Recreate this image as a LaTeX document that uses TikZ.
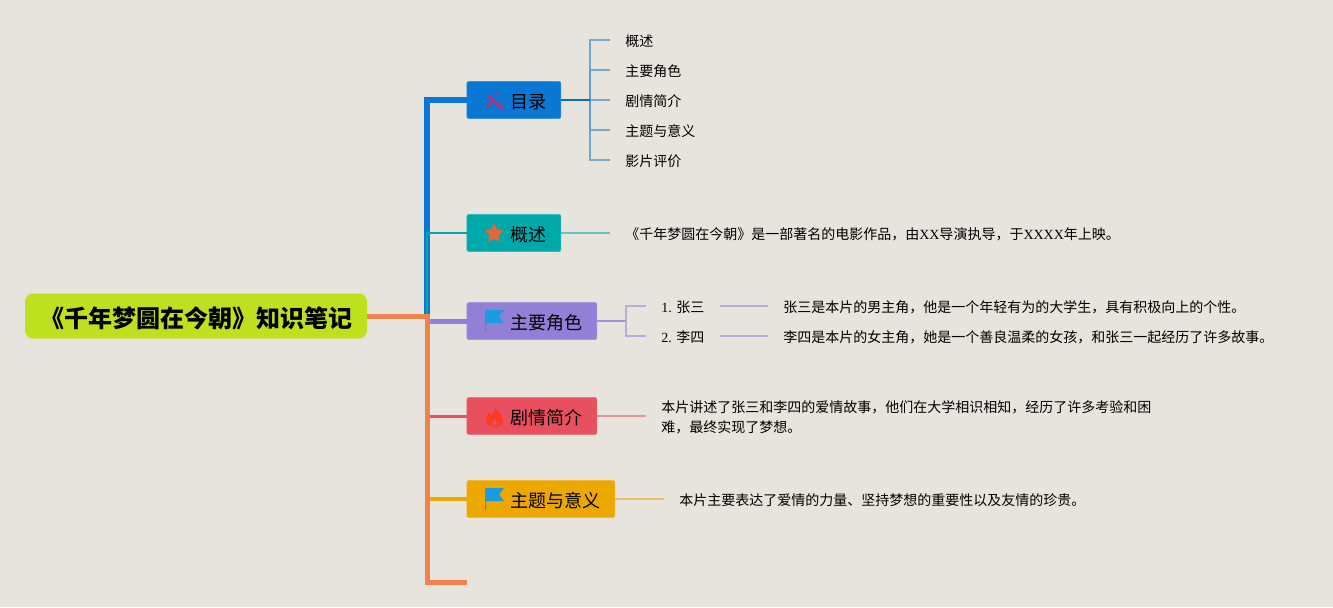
\documentclass[tikz,border=0pt]{standalone}
\usepackage{fontspec}
\setmainfont{Noto Sans CJK SC}
\newfontfamily\lat{Liberation Serif}
\newcommand\pxx[1]{#1*0.75pt}
\definecolor{bgc}{HTML}{E6E4DC}
\definecolor{rootc}{HTML}{BFE01E}
\definecolor{orangec}{HTML}{EF844A}
\definecolor{bluec}{HTML}{0A78D2}
\definecolor{subbluec}{HTML}{5B9AC8}
\definecolor{tealc}{HTML}{00A9A9}
\definecolor{purplec}{HTML}{9180D6}
\definecolor{redc}{HTML}{E8505F}
\definecolor{yellowc}{HTML}{EDA800}
\definecolor{flagc}{HTML}{1A9CE0}
\definecolor{wandc}{HTML}{B0307A}
\definecolor{starc}{HTML}{E0683A}
\definecolor{flamec}{HTML}{FF3A22}
\newcommand\ttl[1]{\hspace*{32.4pt}#1\hspace*{11.1pt}}
\tikzset{
  x=0.75pt,y=-0.75pt,
  rootbox/.style={fill=rootc,rounded corners=6pt,inner sep=0pt,minimum width=\pxx{342},minimum height=\pxx{45},
    font=\fontsize{18}{22}\selectfont\bfseries,text height=17.5pt,text depth=0pt},
  topic/.style={rounded corners=1.5pt,inner sep=0pt,minimum height=\pxx{37},line width=0.5pt,
    font=\fontsize{13.5}{16}\selectfont,text height=12pt,text depth=0pt,anchor=west},
  leaf/.style={inner ysep=0pt,inner xsep=\pxx{15},anchor=west,font=\fontsize{10.5}{15}\selectfont,text height=9.3pt,text depth=0pt},
  para/.style={inner ysep=0pt,inner xsep=\pxx{15},anchor=west,align=left,font=\fontsize{10.5}{15}\selectfont},
  trunkline/.style={line width=\pxx{#1},line cap=butt,line join=miter},
  subline/.style={line width=\pxx{2},line cap=butt,line join=miter,draw opacity=0.55},
}
\begin{document}
\begin{tikzpicture}
\useasboundingbox (0,0) rectangle (1333,607);
\fill[bgc] (0,0) rectangle (1333,607);
\coordinate (j) at (427,316);
\coordinate (tail) at (467,582);
\coordinate (ab) at (590,100);
\coordinate (cj) at (626,321);

\node[rootbox] (root) at (196,316) {《千年梦圆在今朝》知识笔记};
\node[topic,fill=bluec,draw=bluec!80!white] (a) at (466.5,100) {\ttl{目录}};
\node[topic,fill=tealc,draw=tealc!80!white] (b) at (466.5,233) {\ttl{概述}};
\node[topic,fill=purplec,draw=purplec!80!white] (c) at (466.5,321) {\ttl{主要角色}};
\node[topic,fill=redc,draw=redc!80!white] (d) at (466.5,416) {\ttl{剧情简介}};
\node[topic,fill=yellowc,draw=yellowc!80!white] (e) at (466.5,499) {\ttl{主题与意义}};

\node[leaf] (a1) at (610,40) {概述};
\node[leaf] (a2) at (610,70) {主要角色};
\node[leaf] (a3) at (610,100) {剧情简介};
\node[leaf] (a4) at (610,130) {主题与意义};
\node[leaf] (a5) at (610,160) {影片评价};
\node[leaf] (b1) at (610,233) {《千年梦圆在今朝》是一部著名的电影作品，由{\lat XX}导演执导，于{\lat XXXX}年上映。};
\node[leaf] (c1) at (646,306) {{\lat 1. }张三};
\node[leaf] (c2) at (646,336) {{\lat 2. }李四};
\node[leaf] (c1d) at (768,306) {张三是本片的男主角，他是一个年轻有为的大学生，具有积极向上的个性。};
\node[leaf] (c2d) at (768,336) {李四是本片的女主角，她是一个善良温柔的女孩，和张三一起经历了许多故事。};
\node[para] (d1) at (646,417) {本片讲述了张三和李四的爱情故事，他们在大学相识相知，经历了许多考验和困\\难，最终实现了梦想。};
\node[leaf] (e1) at (664,499) {本片主要表达了爱情的力量、坚持梦想的重要性以及友情的珍贵。};

% main branches
\draw[trunkline=6,bluec] (j) |- (a.west);
\draw[trunkline=2,tealc] (j) |- (b.west);
\draw[trunkline=5,purplec] (j) |- (c.west);
\draw[trunkline=3,redc] (j) |- (d.west);
\draw[trunkline=4,yellowc] (j) |- (e.west);
\draw[trunkline=5,orangec] (root.east) -- (j) |- (tail);

% sub branches
\draw[subline,subbluec,draw opacity=0.8] (ab) |- (a1.west);
\draw[subline,subbluec,draw opacity=0.8] (ab) |- (a2.west);
\draw[subline,subbluec,draw opacity=0.8] (ab) -- (a3.west);
\draw[subline,subbluec,draw opacity=0.8] (ab) |- (a4.west);
\draw[subline,subbluec,draw opacity=0.8] (ab) |- (a5.west);
\draw[trunkline=2,bluec!90!black] (a.east) -- (ab);
\draw[subline,tealc] (b.east) -- (b1.west);
\draw[subline,purplec] (cj) |- (c1.west);
\draw[subline,purplec] (cj) |- (c2.west);
\draw[trunkline=2,purplec!85!white] (c.east) -- (cj);
\draw[subline,purplec] (c1.east) -- (c1d.west);
\draw[subline,purplec] (c2.east) -- (c2d.west);
\draw[subline,redc] (d.east) -- (d.east -| d1.west);
\draw[subline,yellowc] (e.east) -- (e1.west);

% icons
\draw[line width=\pxx{3},color=wandc,line cap=round] (489,96.5) -- (502,108);
\draw[line width=\pxx{2.5},color=wandc,line cap=round] (487.5,106) -- (492,101);
\fill[wandc] (498,93.5) circle (1.6);
\fill[wandc,opacity=.5] (501,100) circle (1.3);
\fill[starc] (494,223.5)
  -- (497.1,229.3) -- (503.5,230.4) -- (498.9,235.1) -- (499.9,241.6)
  -- (494,238.7) -- (488.1,241.6) -- (489.1,235.1) -- (484.5,230.4) -- (490.9,229.3) -- cycle;
\newcommand\flagat[2]{%
  \fill[flagc] (#1,#2) -- (#1+19,#2) -- (#1+14,#2+6.5) -- (#1+19,#2+13) -- (#1+1,#2+13) -- (#1+1,#2+22) -- (#1,#2+22) -- cycle;}
\flagat{485}{310}
\flagat{485}{488}
\fill[flamec,even odd rule] (495,406)
  .. controls (496,411) and (503,414) .. (503,420)
  .. controls (503,425) and (499,427) .. (495,427)
  .. controls (490,427) and (486,424.5) .. (486,419.5)
  .. controls (486,416) and (488,414) .. (489.5,412)
  .. controls (490,414) and (490.5,415) .. (491.5,415.5)
  .. controls (493,412) and (495.5,410) .. (495,406) -- cycle
  (494.5,418)
  .. controls (494,421) and (491.5,422) .. (491.5,424)
  .. controls (491.5,425.5) and (493,426) .. (494.5,426)
  .. controls (496,426) and (497.5,425.5) .. (497.5,424)
  .. controls (497.5,422) and (495.5,421) .. (494.5,418) -- cycle;
\end{tikzpicture}
\end{document}
